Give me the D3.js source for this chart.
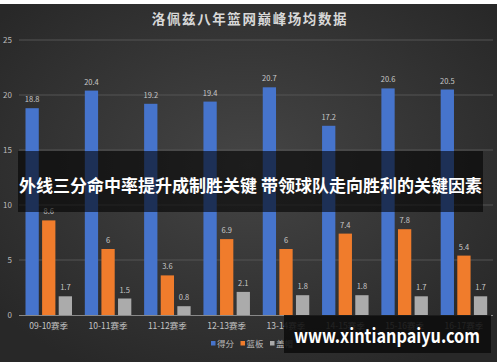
<!DOCTYPE html>
<html>
<head>
<meta charset="utf-8">
<style>
    body { margin: 0; background: #fff; }
    svg { display: block; }
    text { font-family: "Noto Sans CJK SC", "DejaVu Sans", sans-serif; }
</style>
</head>
<body>
<svg id="container" width="500" height="362"></svg>
<script src="https://cdn.jsdelivr.net/npm/d3@7"></script>
<script>
    // data
    let seasons = ["09-10赛季", "10-11赛季", "11-12赛季", "12-13赛季", "13-14赛季", "14-15赛季", "15-16赛季", "16-17赛季"]
    let points = [18.8, 20.4, 19.2, 19.4, 20.7, 17.2, 20.6, 20.5]
    let rebounds = [8.6, 6, 3.6, 6.9, 6, 7.4, 7.8, 5.4]
    let blocks = [1.7, 1.5, 0.8, 2.1, 1.8, 1.8, 1.7, 1.7]
    let seriesNames = ["得分", "篮板", "盖帽"]
    let yTicks = [0, 5, 10, 15, 20, 25]

    let colors = ["#4674cc", "#f07c2c", "#ababab"]

    let svg = d3.select("#container")

    let defs = svg.append("defs")
    let bg = defs.append("radialGradient").attr("id", "bg")
        .attr("cx", "50%").attr("cy", "45%").attr("r", "65%")
    bg.append("stop").attr("offset", "0%").attr("stop-color", "#454545")
    bg.append("stop").attr("offset", "100%").attr("stop-color", "#282828")

    svg.append("rect").attr("x", 0).attr("y", 4).attr("width", 497).attr("height", 358)
        .attr("fill", "url(#bg)")

    let xScale = d3.scaleBand().domain(seasons).range([19, 493.5])
    let yScale = d3.scaleLinear().domain([0, 25]).range([315, 40])
    let inner = d3.scaleBand().domain(seriesNames).range([6.5, 53]).paddingInner(0.2)

    // grid
    svg.append("g").selectAll("line")
        .data(yTicks.filter(d => d > 0))
        .enter().append("line")
        .attr("x1", 19).attr("x2", 493)
        .attr("y1", d => yScale(d)).attr("y2", d => yScale(d))
        .attr("stroke", "#555").attr("stroke-width", 1)

    // y axis labels
    let yAxis = svg.append("g").attr("transform", "translate(12,0)")
        .call(d3.axisLeft(yScale).tickValues(yTicks).tickSize(0).tickPadding(0))
    yAxis.select(".domain").remove()
    yAxis.selectAll("text").attr("fill", "#bbb").attr("font-size", 8)

    let table = seasons.map((s, i) => ({season: s, values: [points[i], rebounds[i], blocks[i]]}))

    let groups = svg.selectAll(".grp").data(table).enter().append("g")
        .attr("transform", d => "translate(" + xScale(d.season) + ",0)")

    groups.selectAll("rect")
        .data(d => d.values.map((v, j) => ({name: seriesNames[j], v: v, j: j})))
        .enter().append("rect")
        .attr("x", d => inner(d.name))
        .attr("width", inner.bandwidth())
        .attr("y", d => yScale(d.v))
        .attr("height", d => yScale(0) - yScale(d.v))
        .attr("fill", d => colors[d.j])

    groups.selectAll(".val")
        .data(d => d.values.map((v, j) => ({name: seriesNames[j], v: v})))
        .enter().append("text")
        .attr("x", d => inner(d.name) + inner.bandwidth() / 2)
        .attr("y", d => yScale(d.v) - 6)
        .attr("text-anchor", "middle")
        .attr("font-size", 7.5)
        .attr("fill", "#c8c8c8")
        .text(d => d.v)

    // x axis
    let xAxis = svg.append("g").attr("transform", "translate(0,315)")
        .call(d3.axisBottom(xScale).tickSize(0).tickPadding(8))
    xAxis.select(".domain").attr("stroke", "#888").attr("d", "M19,0.5H493")
    xAxis.selectAll("text").attr("fill", "#c4c4c4").attr("font-size", 8.5)

    // legend
    let legend = svg.append("g").attr("transform", "translate(211,345)")
    let lx = [0, 29.5, 59]
    seriesNames.forEach((n, i) => {
        legend.append("rect").attr("x", lx[i]).attr("y", -4).attr("width", 4.5).attr("height", 4.5)
            .attr("fill", colors[i])
        legend.append("text").attr("x", lx[i] + 6).attr("y", 1.5)
            .attr("font-size", 8.5).attr("fill", "#bbb").text(n)
    })

    // title
    svg.append("text").attr("x", 250).attr("y", 24)
        .attr("text-anchor", "middle")
        .attr("font-size", 13.5).attr("font-weight", "bold")
        .attr("letter-spacing", 1.6)
        .attr("fill", "#d8d8d8")
        .text("洛佩兹八年篮网巅峰场均数据")

    // overlay banner
    svg.append("rect").attr("x", 18).attr("y", 151).attr("width", 465).attr("height", 61)
        .attr("fill", "rgba(0,0,0,0.58)")
    svg.append("text").attr("x", 19).attr("y", 192)
        .attr("font-size", 17).attr("font-weight", "bold").attr("fill", "#fff")
        .attr("textLength", 463).attr("lengthAdjust", "spacingAndGlyphs")
        .text("外线三分命中率提升成制胜关键 带领球队走向胜利的关键因素")

    // watermark
    svg.append("rect").attr("x", 284).attr("y", 315).attr("width", 207).attr("height", 38)
        .attr("fill", "rgba(12,12,12,0.88)")
    svg.append("text").attr("x", 294).attr("y", 343)
        .attr("font-family", "DejaVu Sans").attr("font-size", 19).attr("font-weight", "bold")
        .attr("fill", "#fff")
        .attr("textLength", 186).attr("lengthAdjust", "spacingAndGlyphs")
        .text("www.xintianpaiyu.com")
</script>
</body>
</html>
